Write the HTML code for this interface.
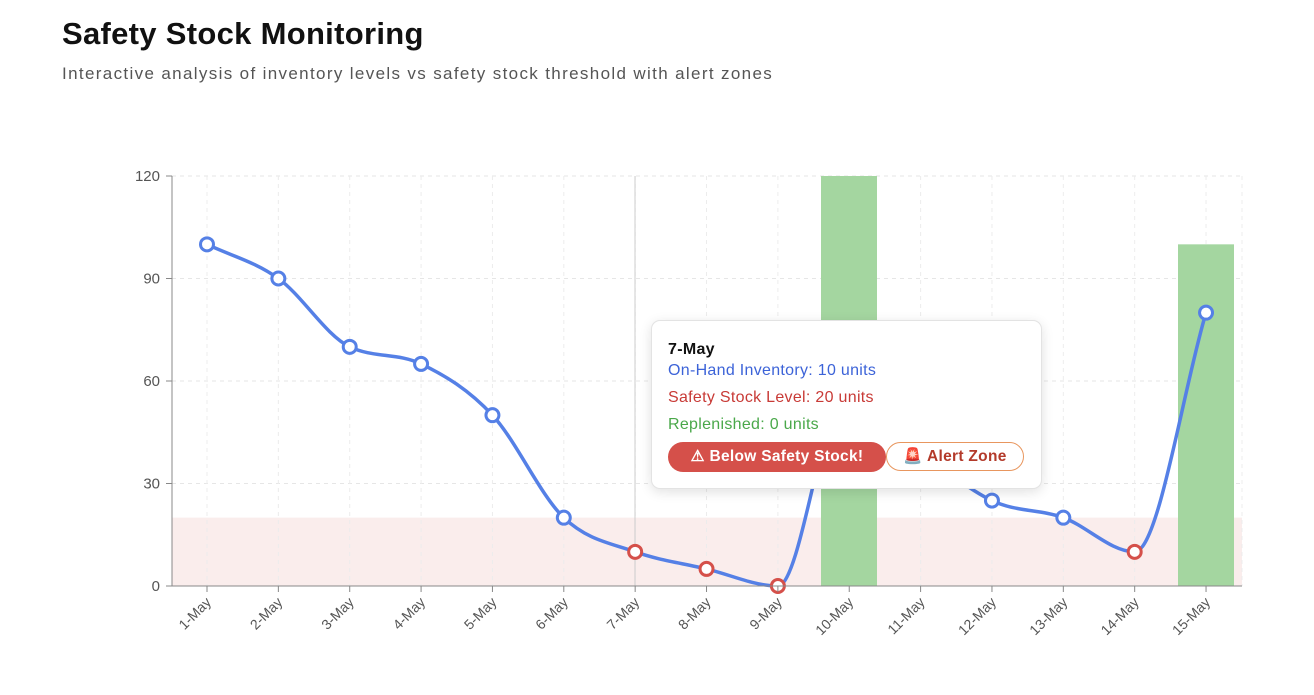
<!DOCTYPE html>
<html><head><meta charset="utf-8"><style>
body{margin:0;width:1314px;height:695px;background:#fff;font-family:"Liberation Sans",sans-serif;position:relative;overflow:hidden}
h1{position:absolute;left:62px;top:16px;margin:0;font-size:31px;font-weight:bold;color:#111;letter-spacing:0.3px}
.sub{position:absolute;left:62px;top:64px;font-size:17px;color:#555;letter-spacing:1.35px}
.tip{position:absolute;left:651px;top:320px;width:389px;height:167px;background:#fff;border:1px solid #e3e3e3;border-radius:9px;box-shadow:0 3px 12px rgba(0,0,0,0.12);font-size:16px;letter-spacing:0.3px}
.tip div{position:absolute;left:16px}
.b1{position:absolute;left:16px;top:121px;width:218px;height:30px;border-radius:15px;background:#d5504a;color:#fff;font-weight:bold;line-height:30px;text-align:center;font-size:15.5px}
.b2{position:absolute;left:234px;top:121px;width:136px;height:27px;border-radius:15px;border:1.5px solid #e8965e;color:#b33a2a;font-weight:bold;line-height:27px;text-align:center;font-size:15.5px}
</style></head><body>
<h1>Safety Stock Monitoring</h1>
<div class="sub">Interactive analysis of inventory levels vs safety stock threshold with alert zones</div>
<svg id="c" width="1314" height="695" style="position:absolute;left:0;top:0"></svg>
<div class="tip">
<div style="top:20px;font-weight:bold;color:#111">7-May</div>
<div style="top:41px;color:#3c63d8">On-Hand Inventory: 10 units</div>
<div style="top:68px;color:#c83a36">Safety Stock Level: 20 units</div>
<div style="top:95px;color:#4aa84a">Replenished: 0 units</div>
<span class="b1">⚠ Below Safety Stock!</span>
<span class="b2">🚨 Alert Zone</span>
</div>
<script>
var s='',X0=207,dx=71.36,Y=function(v){return 586-v*410/120};
var vals=[100,90,70,65,50,20,10,5,0,60,40,25,20,10,80];
var lab=['1-May','2-May','3-May','4-May','5-May','6-May','7-May','8-May','9-May','10-May','11-May','12-May','13-May','14-May','15-May'];
s+='<rect x="172" y="'+Y(20)+'" width="1070" height="'+(586-Y(20))+'" fill="#f9e9e7" opacity="0.8"/>';
[30,60,90,120].forEach(function(v){s+='<line x1="172" x2="1242" y1="'+Y(v)+'" y2="'+Y(v)+'" stroke="#e6e6e6" stroke-dasharray="4 4"/>'});
for(var i=0;i<15;i++){var x=X0+i*dx;s+='<line x1="'+x+'" x2="'+x+'" y1="176" y2="586" stroke="#ececec" stroke-dasharray="4 4"/>';}
s+='<line x1="1242" x2="1242" y1="176" y2="586" stroke="#ececec" stroke-dasharray="4 4"/>';
s+='<line x1="635" x2="635" y1="176" y2="586" stroke="#ccc"/>';
s+='<rect x="1178" y="'+Y(100)+'" width="56" height="'+(586-Y(100))+'" fill="#a4d6a0"/>';
var px=vals.map(function(v,i){return X0+i*dx}),py=vals.map(Y),n=15,m=[],d=[];
for(i=0;i<n-1;i++)d.push((py[i+1]-py[i])/dx);
for(i=0;i<n;i++){if(i==0)m.push(d[0]);else if(i==n-1)m.push(d[n-2]);else{var a=d[i-1],b=d[i];if(a*b<=0)m.push(0);else m.push(Math.sign(a)*Math.min(2*Math.abs(a),2*Math.abs(b),Math.abs((a+b)/2)));}}
var p='M'+px[0]+','+py[0];
for(i=0;i<n-1;i++){var h=dx/3;p+=' C'+(px[i]+h)+','+(py[i]+m[i]*h)+' '+(px[i+1]-h)+','+(py[i+1]-m[i+1]*h)+' '+px[i+1]+','+py[i+1];}
s+='<path d="'+p+'" fill="none" stroke="#5580e6" stroke-width="3.5"/>';
s+='<rect x="821" y="'+Y(120)+'" width="56" height="'+(586-Y(120))+'" fill="#a4d6a0"/>';
for(i=0;i<n;i++){if(i==9||i==10)continue;var red=vals[i]<20&&i>5;s+='<circle cx="'+px[i]+'" cy="'+py[i]+'" r="6.5" fill="#fff" stroke="'+(red?'#d5504a':'#5580e6')+'" stroke-width="3"/>';}
s+='<line x1="172" x2="172" y1="176" y2="586" stroke="#888"/><line x1="172" x2="1242" y1="586" y2="586" stroke="#888"/>';
[0,30,60,90,120].forEach(function(v){s+='<line x1="166" x2="172" y1="'+Y(v)+'" y2="'+Y(v)+'" stroke="#888"/><text x="160" y="'+(Y(v)+5)+'" text-anchor="end" font-size="15" fill="#555" font-family="Liberation Sans">'+v+'</text>'});
for(i=0;i<n;i++){var x=px[i];s+='<line x1="'+x+'" x2="'+x+'" y1="586" y2="592" stroke="#888"/><text transform="translate('+(x+5)+',603) rotate(-45)" text-anchor="end" font-size="14" fill="#555" font-family="Liberation Sans">'+lab[i]+'</text>';}
document.getElementById('c').innerHTML=s;
</script>
</body></html>
